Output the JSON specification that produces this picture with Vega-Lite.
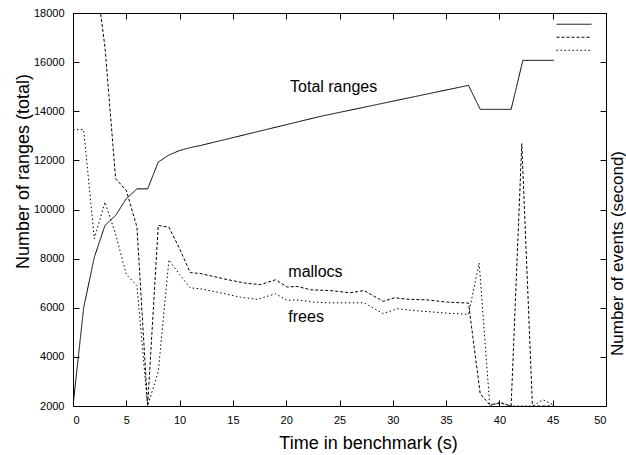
{
  "$schema": "https://vega.github.io/schema/vega-lite/v6.json",
  "width": 533,
  "height": 393,
  "autosize": "none",
  "padding": {"left": 73, "top": 13, "right": 20, "bottom": 49},
  "background": "white",
  "config": {
    "view": {"stroke": "black", "strokeWidth": 1},
    "font": "Liberation Sans",
    "axis": {"grid": false, "domain": false, "tickColor": "black", "tickWidth": 1, "labelColor": "black", "titleColor": "black", "labelFont": "Liberation Sans", "titleFont": "Liberation Sans", "titleFontWeight": "normal", "labelFontSize": 11, "titleFontSize": 18}
  },
  "datasets": {
    "series": [
      {"series": "total", "t": 0, "v": 2000},
      {"series": "total", "t": 1, "v": 6000},
      {"series": "total", "t": 2, "v": 8060},
      {"series": "total", "t": 3, "v": 9350},
      {"series": "total", "t": 4, "v": 9760},
      {"series": "total", "t": 5, "v": 10440},
      {"series": "total", "t": 6, "v": 10840},
      {"series": "total", "t": 7, "v": 10840},
      {"series": "total", "t": 8, "v": 11930},
      {"series": "total", "t": 9, "v": 12220},
      {"series": "total", "t": 10, "v": 12400},
      {"series": "total", "t": 11, "v": 12520},
      {"series": "total", "t": 12, "v": 12610},
      {"series": "total", "t": 23.2, "v": 13790},
      {"series": "total", "t": 37.1, "v": 15055},
      {"series": "total", "t": 38.2, "v": 14077},
      {"series": "total", "t": 41.1, "v": 14077},
      {"series": "total", "t": 42.2, "v": 16073},
      {"series": "total", "t": 45.1, "v": 16073},
      {"series": "mallocs", "t": 1, "v": 23000},
      {"series": "mallocs", "t": 2, "v": 20000},
      {"series": "mallocs", "t": 3, "v": 16600},
      {"series": "mallocs", "t": 4, "v": 11250},
      {"series": "mallocs", "t": 5, "v": 10780},
      {"series": "mallocs", "t": 6, "v": 9280},
      {"series": "mallocs", "t": 7, "v": 2000},
      {"series": "mallocs", "t": 8, "v": 9350},
      {"series": "mallocs", "t": 9, "v": 9280},
      {"series": "mallocs", "t": 10, "v": 8400},
      {"series": "mallocs", "t": 11, "v": 7430},
      {"series": "mallocs", "t": 12, "v": 7390},
      {"series": "mallocs", "t": 14.1, "v": 7180},
      {"series": "mallocs", "t": 16.2, "v": 7000},
      {"series": "mallocs", "t": 17.6, "v": 6940},
      {"series": "mallocs", "t": 19, "v": 7140},
      {"series": "mallocs", "t": 20.1, "v": 6840},
      {"series": "mallocs", "t": 21, "v": 6870},
      {"series": "mallocs", "t": 22.3, "v": 6730},
      {"series": "mallocs", "t": 24.1, "v": 6700},
      {"series": "mallocs", "t": 26, "v": 6610},
      {"series": "mallocs", "t": 27.3, "v": 6700},
      {"series": "mallocs", "t": 29.1, "v": 6260},
      {"series": "mallocs", "t": 30.2, "v": 6410},
      {"series": "mallocs", "t": 31.3, "v": 6350},
      {"series": "mallocs", "t": 33.2, "v": 6320},
      {"series": "mallocs", "t": 35.1, "v": 6230},
      {"series": "mallocs", "t": 37.1, "v": 6190},
      {"series": "mallocs", "t": 38.2, "v": 2500},
      {"series": "mallocs", "t": 39.1, "v": 2050},
      {"series": "mallocs", "t": 40.1, "v": 2120},
      {"series": "mallocs", "t": 41.1, "v": 2000},
      {"series": "mallocs", "t": 42.1, "v": 12680},
      {"series": "mallocs", "t": 43.1, "v": 2000},
      {"series": "mallocs", "t": 44.1, "v": 2000},
      {"series": "mallocs", "t": 45.1, "v": 2000},
      {"series": "frees", "t": 0, "v": 13250},
      {"series": "frees", "t": 1, "v": 13250},
      {"series": "frees", "t": 2, "v": 8810},
      {"series": "frees", "t": 3, "v": 10300},
      {"series": "frees", "t": 4, "v": 9000},
      {"series": "frees", "t": 5, "v": 7350},
      {"series": "frees", "t": 6, "v": 6900},
      {"series": "frees", "t": 7, "v": 2000},
      {"series": "frees", "t": 8, "v": 3400},
      {"series": "frees", "t": 9, "v": 7950},
      {"series": "frees", "t": 10, "v": 7350},
      {"series": "frees", "t": 11, "v": 6810},
      {"series": "frees", "t": 12, "v": 6770},
      {"series": "frees", "t": 13.8, "v": 6610},
      {"series": "frees", "t": 15.7, "v": 6430},
      {"series": "frees", "t": 17.3, "v": 6340},
      {"series": "frees", "t": 19, "v": 6570},
      {"series": "frees", "t": 20.1, "v": 6300},
      {"series": "frees", "t": 21, "v": 6320},
      {"series": "frees", "t": 22.6, "v": 6230},
      {"series": "frees", "t": 24.1, "v": 6200},
      {"series": "frees", "t": 27.3, "v": 6200},
      {"series": "frees", "t": 29.1, "v": 5760},
      {"series": "frees", "t": 30.4, "v": 5960},
      {"series": "frees", "t": 31.9, "v": 5890},
      {"series": "frees", "t": 35.1, "v": 5780},
      {"series": "frees", "t": 37.1, "v": 5730},
      {"series": "frees", "t": 38.1, "v": 7820},
      {"series": "frees", "t": 39.1, "v": 2000},
      {"series": "frees", "t": 40.1, "v": 2150},
      {"series": "frees", "t": 41.1, "v": 2000},
      {"series": "frees", "t": 42.1, "v": 2000},
      {"series": "frees", "t": 43.1, "v": 2000},
      {"series": "frees", "t": 44.1, "v": 2250},
      {"series": "frees", "t": 45, "v": 2060}
    ],
    "labels": [
      {"label": "Total ranges", "t": 20.36, "v": 14770},
      {"label": "mallocs", "t": 20.2, "v": 7247},
      {"label": "frees", "t": 20.2, "v": 5414}
    ]
  },
  "layer": [
    {
      "data": {"name": "series"},
      "mark": {"type": "line", "color": "black", "strokeWidth": 1, "clip": true},
      "encoding": {
        "x": {"field": "t", "type": "quantitative", "scale": {"domain": [0, 50], "nice": false, "zero": false},
          "axis": {"orient": "bottom", "values": [0, 5, 10, 15, 20, 25, 30, 35, 40, 45, 50], "tickSize": -6, "labelPadding": 14, "title": "Time in benchmark (s)", "titleX": 295, "titleY": 42, "titleBaseline": "alphabetic", "titleAlign": "center"}},
        "y": {"field": "v", "type": "quantitative", "scale": {"domain": [2000, 18000], "nice": false, "zero": false},
          "axis": {"orient": "left", "values": [2000, 4000, 6000, 8000, 10000, 12000, 14000, 16000, 18000], "format": "d", "tickSize": -6, "labelPadding": 15, "title": "Number of ranges (total)", "titleAngle": 270, "titleX": -45, "titleY": 158, "titleBaseline": "alphabetic", "titleAlign": "center"}},
        "strokeDash": {"field": "series", "type": "nominal",
          "scale": {"domain": ["total", "mallocs", "frees"], "range": [[1, 0], [3, 2], [1.5, 2.5]]},
          "legend": {"title": null, "orient": "none", "legendX": 483, "legendY": 5, "padding": 0, "symbolType": "stroke", "symbolSize": 1225, "symbolStrokeWidth": 1, "symbolStrokeColor": "black", "clipHeight": 12.5, "rowPadding": 0, "labelExpr": "''", "labelOffset": 0}},
        "detail": {"field": "series"},
        "order": {"field": "t", "type": "quantitative"}
      }
    },
    {
      "data": {"name": "labels"},
      "mark": {"type": "text", "font": "Liberation Sans", "fontSize": 16, "align": "left", "baseline": "alphabetic", "color": "black"},
      "encoding": {
        "x": {"field": "t", "type": "quantitative", "axis": {"orient": "top", "values": [0, 5, 10, 15, 20, 25, 30, 35, 40, 45, 50], "labels": false, "tickSize": -6, "title": null}},
        "y": {"field": "v", "type": "quantitative", "axis": {"orient": "right", "values": [2000, 4000, 6000, 8000, 10000, 12000, 14000, 16000, 18000], "labels": false, "tickSize": -6, "title": "Number of events (second)", "titleFontSize": 17, "titleAngle": 270, "titleX": 16, "titleY": 240, "titleBaseline": "alphabetic", "titleAlign": "center"}},
        "text": {"field": "label"}
      }
    }
  ],
  "resolve": {"axis": {"x": "independent", "y": "independent"}}
}
